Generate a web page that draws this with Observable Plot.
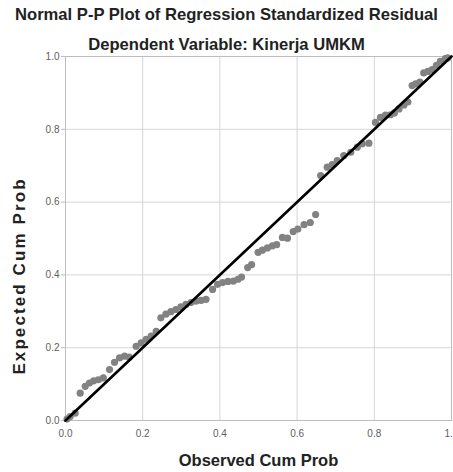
<!DOCTYPE html>
<html>
<head>
<meta charset="utf-8">
<script src="https://cdn.jsdelivr.net/npm/d3@7"></script>
<script src="https://cdn.jsdelivr.net/npm/@observablehq/plot@0.6"></script>
<style>
  body { margin: 0; background: #fff; width: 453px; height: 472px; overflow: hidden; position: relative; font-family: "Liberation Sans", Arial, sans-serif; }
  .ttl { position: absolute; left: 0; width: 453px; text-align: center; font-weight: bold; font-size: 16.6px; line-height: 18px; color: #222; z-index: 2; white-space: nowrap; }
  #ytitle { position: absolute; left: 20px; top: 276px; transform: translate(-50%, -50%) rotate(-90deg); font-weight: bold; font-size: 17px; letter-spacing: 2.1px; color: #222; white-space: nowrap; z-index: 2; }
  #chart { position: absolute; left: 0; top: 50px; z-index: 1; }
  #chart svg g[aria-label="x-axis label"] text { font-size: 16.5px; font-weight: bold; fill: #222; }
  #chart svg g[aria-label="x-axis tick label"] text,
  #chart svg g[aria-label="y-axis tick label"] text { fill: #5e5e5e; }
</style>
</head>
<body>
<div class="ttl" style="top:6px">Normal P-P Plot of Regression Standardized Residual</div>
<div class="ttl" style="top:36px">Dependent Variable: Kinerja UMKM</div>
<div id="ytitle">Expected Cum Prob</div>
<div id="chart"></div>
<script>
const observedCumProb = [0.004,0.012,0.025,0.038,0.051,0.062,0.073,0.085,0.098,0.114,0.127,0.14,0.153,0.165,0.183,0.196,0.209,0.222,0.235,0.247,0.26,0.273,0.286,0.299,0.312,0.325,0.338,0.351,0.364,0.381,0.394,0.407,0.421,0.435,0.447,0.456,0.472,0.482,0.499,0.51,0.523,0.536,0.547,0.562,0.575,0.59,0.602,0.618,0.634,0.648,0.661,0.678,0.691,0.704,0.721,0.739,0.756,0.769,0.786,0.803,0.816,0.829,0.842,0.852,0.864,0.877,0.887,0.898,0.907,0.918,0.928,0.939,0.95,0.961,0.971,0.984,0.99];
const expectedCumProb = [0.004,0.011,0.02,0.075,0.094,0.103,0.109,0.112,0.117,0.14,0.16,0.172,0.177,0.174,0.204,0.213,0.223,0.232,0.245,0.282,0.292,0.299,0.305,0.312,0.319,0.324,0.328,0.33,0.333,0.36,0.374,0.379,0.382,0.383,0.388,0.394,0.42,0.428,0.462,0.468,0.474,0.48,0.483,0.503,0.501,0.519,0.526,0.538,0.544,0.566,0.673,0.696,0.703,0.714,0.728,0.737,0.751,0.76,0.762,0.819,0.833,0.839,0.84,0.845,0.856,0.867,0.875,0.92,0.925,0.93,0.955,0.959,0.964,0.976,0.987,0.994,0.996];
const tickValues = [0, 0.2, 0.4, 0.6, 0.8, 1.0];
const refLineX = [0, 1];
const refLineY = [0, 1];

const points = observedCumProb.map((x, i) => ({x, y: expectedCumProb[i]}));
const refLine = refLineX.map((x, i) => ({x, y: refLineY[i]}));

const chart = Plot.plot({
  width: 453,
  height: 422,
  marginLeft: 65,
  marginRight: 2,
  marginTop: 6,
  marginBottom: 52,
  style: {fontFamily: "'Liberation Sans', Arial, sans-serif", fontSize: "10px", background: "transparent"},
  x: {domain: [0, 1]},
  y: {domain: [0, 1]},
  marks: [
    Plot.gridX(tickValues, {stroke: "#d6d6d6", strokeOpacity: 1, strokeWidth: 1}),
    Plot.gridY(tickValues, {stroke: "#d6d6d6", strokeOpacity: 1, strokeWidth: 1}),
    Plot.frame({stroke: "#bdbdbd", strokeWidth: 1}),
    Plot.axisX(tickValues, {tickSize: 0, tickPadding: 9, tickFormat: d3.format(".1f"), label: "Observed Cum Prob", labelAnchor: "center", labelArrow: "none", labelOffset: 45}),
    Plot.axisY(tickValues, {tickSize: 4, tickPadding: 2, stroke: "#bdbdbd", tickFormat: d3.format(".1f"), label: null}),
    Plot.dot(points, {x: "x", y: "y", r: 3.6, fill: "#828282", stroke: "none"}),
    Plot.line(refLine, {x: "x", y: "y", stroke: "#000", strokeWidth: 2.6})
  ]
});
document.getElementById("chart").appendChild(chart);
</script>
</body>
</html>
